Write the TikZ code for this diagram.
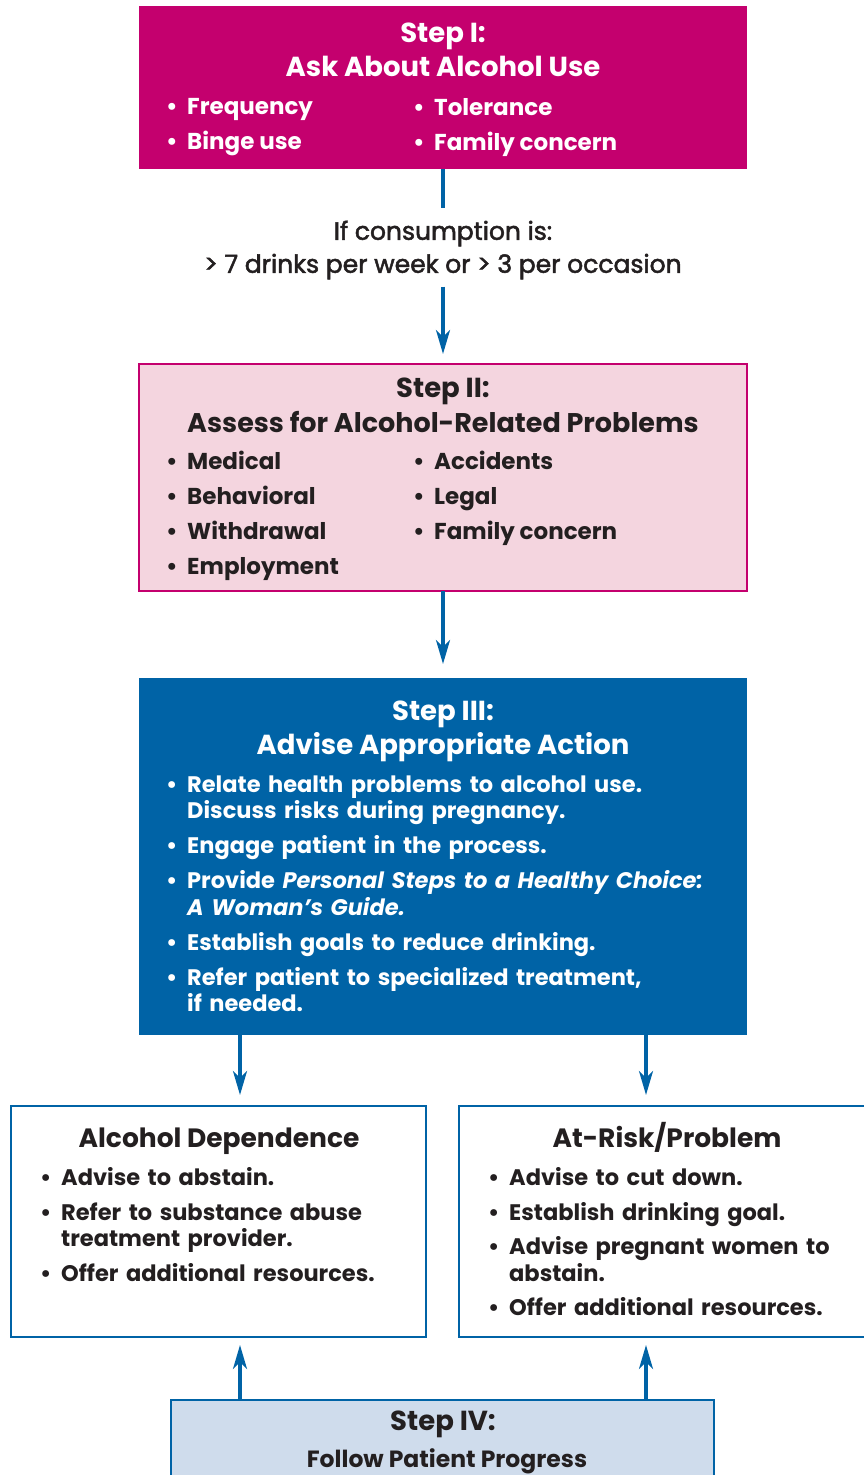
\documentclass[tikz,border=0pt]{standalone}
\usepackage{fontspec}
\setmainfont{Poppins}
\newfontfamily\condfont{Poppins}[FakeBold=2]
\usepackage{xcolor}
\usetikzlibrary{arrows.meta}

\definecolor{stepmagenta}{HTML}{C4006E}
\definecolor{steppink}{HTML}{F4D5DF}
\definecolor{stepblue}{HTML}{0063A6}
\definecolor{steplight}{HTML}{CFDCEC}
\definecolor{inkdark}{HTML}{231F20}

\newcommand{\bul}{\makebox[21pt][l]{\textbullet}}
\newcommand{\bitem}[1]{\par\hangindent=21pt\hangafter=1\noindent\bul#1}

\tikzset{
  box/.style={rectangle, inner sep=0pt, outer sep=0pt},
  headtext/.style={anchor=base, inner sep=0pt, font=\fontsize{27.5}{34}\selectfont\bfseries},
  listtext/.style={anchor=north west, inner sep=0pt, align=left, font=\fontsize{23}{35}\selectfont\bfseries},
  smalllist/.style={anchor=north west, inner sep=0pt, text width=#1,
    font=\fontsize{22.5}{26.5}\selectfont\bfseries\raggedright},
  flow/.style={draw=stepblue, line width=3.5pt, -{Stealth[length=24pt,width=14pt,inset=7pt]}}
}

\begin{document}
\begin{tikzpicture}[x=1pt,y=-1pt]
  \useasboundingbox (0,0) rectangle (864,1475);
  % step I
  \node[box, fill=stepmagenta, minimum width=608pt, minimum height=163pt] (ask) at (443,87.5) {};
  \node[headtext, text=white] (askstep) at (443,42) {Step I:};
  \node[headtext, text=white] (asktitle) at (443,76) {Ask About Alcohol Use};
  \node[listtext, text=white] (askleft) at (166,98) {\bul Frequency\\\bul Binge use};
  \node[listtext, text=white] (askright) at (413,98) {\bul Tolerance\\\bul Family concern};
  % condition
  \node[inner sep=0pt, align=center, text=inkdark, font=\fontsize{25}{33}\condfont] (cond) at (443,250)
    {If consumption is:\\> 7 drinks per week or > 3 per occasion};
  % step II
  \node[box, fill=steppink, draw=stepmagenta, line width=1.5pt, minimum width=608pt, minimum height=227pt] (assess) at (443,477.5) {};
  \node[headtext, text=inkdark] (assessstep) at (443,397) {Step II:};
  \node[headtext, text=inkdark, font=\fontsize{27}{34}\selectfont\bfseries] (assesstitle) at (443,432) {Assess for Alcohol-Related Problems};
  \node[listtext, text=inkdark] (assessleft) at (166,451)
    {\bul Medical\\\bul Behavioral\\\bul Withdrawal\\\bul Employment};
  \node[listtext, text=inkdark] (assessright) at (413,451)
    {\bul Accidents\\\bul Legal\\\bul Family concern};
  % step III
  \node[box, fill=stepblue, minimum width=608pt, minimum height=357pt] (advise) at (443,856.5) {};
  \node[headtext, text=white] (advisestep) at (443,720) {Step III:};
  \node[headtext, text=white] (advisetitle) at (443,754) {Advise Appropriate Action};
  \node[smalllist=575pt, text=white] (adviselist) at (166,765.5) {%
    \bitem{Relate health problems to alcohol use.\newline Discuss risks during pregnancy.}\vspace{8.5pt}
    \bitem{Engage patient in the process.}\vspace{8.5pt}
    \bitem{Provide \textit{Personal Steps to a Healthy Choice:}\newline\textit{A Woman’s Guide.}}\vspace{8.5pt}
    \bitem{Establish goals to reduce drinking.}\vspace{8.5pt}
    \bitem{Refer patient to specialized treatment,\newline if needed.}\par};
  % outcomes
  \node[box, fill=white, draw=stepblue, line width=1.5pt, minimum width=415pt, minimum height=231pt] (depend) at (218.5,1221.5) {};
  \node[headtext, text=inkdark, font=\fontsize{26.5}{34}\selectfont\bfseries] (dependtitle) at (219,1147) {Alcohol Dependence};
  \node[smalllist=380pt, text=inkdark] (dependlist) at (40,1159) {%
    \bitem{Advise to abstain.}\vspace{8pt}
    \bitem{Refer to substance abuse\newline treatment provider.}\vspace{8pt}
    \bitem{Offer additional resources.}\par};
  \node[box, fill=white, draw=stepblue, line width=1.5pt, minimum width=406pt, minimum height=231pt] (atrisk) at (662,1221.5) {};
  \node[headtext, text=inkdark, font=\fontsize{26.5}{34}\selectfont\bfseries] (atrisktitle) at (667,1147) {At-Risk/Problem};
  \node[smalllist=370pt, text=inkdark] (atrisklist) at (488,1159) {%
    \bitem{Advise to cut down.}\vspace{8pt}
    \bitem{Establish drinking goal.}\vspace{8pt}
    \bitem{Advise pregnant women to\newline abstain.}\vspace{8pt}
    \bitem{Offer additional resources.}\par};
  % step IV
  \node[box, fill=steplight, draw=stepblue, line width=2pt, minimum width=543pt, minimum height=100pt] (follow) at (442.5,1450) {};
  \node[headtext, text=inkdark] (followstep) at (443,1430) {Step IV:};
  \node[headtext, text=inkdark, font=\fontsize{23.5}{30}\selectfont\bfseries] (followtitle) at (447,1467) {Follow Patient Progress};
  % arrows
  \coordinate (leftx) at (240,0);
  \coordinate (rightx) at (646,0);
  \draw[draw=stepblue, line width=3.5pt, shorten >=13pt] (ask.south) -- (cond.north);
  \draw[flow, shorten <=7pt, shorten >=10pt] (cond.south) -- (assess.north);
  \draw[flow, shorten >=14pt] (assess.south) -- (advise.north);
  \draw[flow, shorten >=11pt] (advise.south -| leftx) -- (depend.north -| leftx);
  \draw[flow, shorten >=11pt] (advise.south -| rightx) -- (atrisk.north -| rightx);
  \draw[flow, shorten >=8pt] (follow.north -| leftx) -- (depend.south -| leftx);
  \draw[flow, shorten >=8pt] (follow.north -| rightx) -- (atrisk.south -| rightx);
\end{tikzpicture}
\end{document}
